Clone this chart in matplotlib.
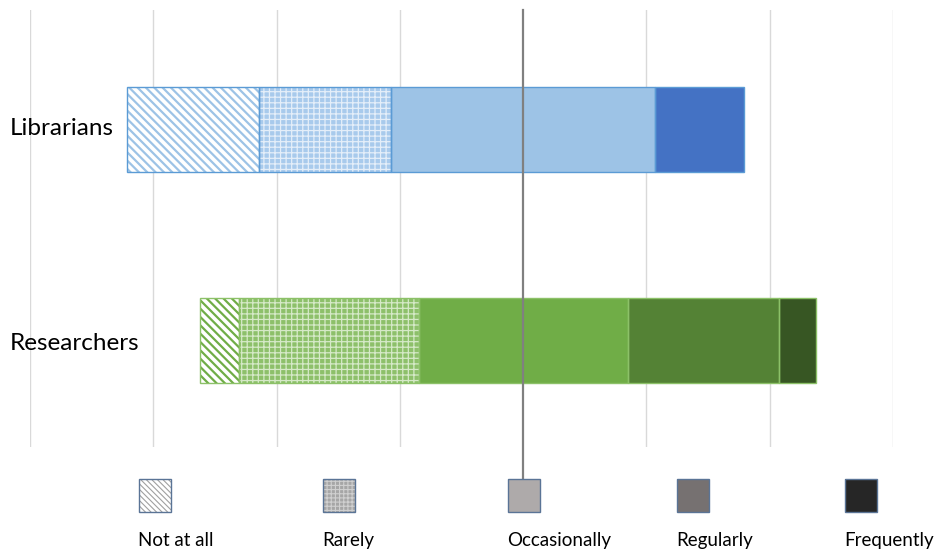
import matplotlib
matplotlib.use("Agg")
import matplotlib.pyplot as plt
from matplotlib.patches import Rectangle
import numpy as np

groups = ["Librarians", "Researchers"]
levels = ["Not at all", "Rarely", "Occasionally", "Regularly", "Frequently"]
librarians = [21.4, 21.4, 42.9, 14.3, 0.0]
researchers = [6.3, 29.2, 33.9, 24.5, 6.0]
x_ticks = [-80, -60, -40, -20, 0, 20, 40, 60]

plt.rcParams['font.family'] = ['Lato', 'DejaVu Sans']

W, H = 935, 549
fig = plt.figure(figsize=(W / 100, H / 100), dpi=100)
ax = fig.add_axes([30 / W, (H - 447) / H, (893 - 30) / W, (447 - 10) / H])

styles = {
    "Librarians": dict(
        fills=["white", "#a8caec", "#9dc3e6", "#4472c4", "#2f5597"],
        hatchcol=["#9dc3e6", "#e4eef9", None, None, None],
        hatches=["\\\\\\\\", "+++", None, None, None],
        hlw=[1.6, 0.9, 0, 0, 0],
        edge="#5b9bd5"),
    "Researchers": dict(
        fills=["white", "#8dc06a", "#70ad47", "#548235", "#375623"],
        hatchcol=["#70ad47", "#d5e9c7", None, None, None],
        hatches=["\\\\\\\\", "+++", None, None, None],
        hlw=[1.6, 0.9, 0, 0, 0],
        edge="#8cc168"),
}

data = {"Librarians": librarians, "Researchers": researchers}
bar_h = 0.4
for i, g in enumerate(groups):
    vals = data[g]
    st = styles[g]
    left = -(vals[0] + vals[1] + vals[2] / 2)
    for j, v in enumerate(vals):
        if v <= 0:
            continue
        if st["hatches"][j]:
            plt.rcParams['hatch.linewidth'] = st["hlw"][j]
            ax.barh(i, v, left=left, height=bar_h, color=st["fills"][j],
                    edgecolor=st["hatchcol"][j], hatch=st["hatches"][j],
                    linewidth=0, zorder=2)
        else:
            ax.barh(i, v, left=left, height=bar_h, color=st["fills"][j],
                    linewidth=0, zorder=2)
        ax.barh(i, v, left=left, height=bar_h, fill=False,
                edgecolor=st["edge"], linewidth=1.0, zorder=3)
        left += v

ax.set_xlim(-80, 60)
ax.set_ylim(1.505, -0.566)
for x in x_ticks:
    if x != 0:
        ax.axvline(x, color="#d9d9d9", linewidth=1.0, zorder=0)
ax.axvline(0, ymin=-0.087, ymax=1.0, color="#808080", linewidth=1.6,
           clip_on=False, zorder=4)
for s in ax.spines.values():
    s.set_visible(False)
ax.set_xticks([])
ax.set_yticks([])

# Overlay for labels and legend (pixel coordinates)
leg = fig.add_axes([0, 0, 1, 1], zorder=5)
leg.set_xlim(0, W)
leg.set_ylim(H, 0)
leg.axis("off")
leg.patch.set_alpha(0)

label_baselines = [135, 350]
for g, yb in zip(groups, label_baselines):
    leg.text(10, yb, g, ha="left", va="baseline", fontsize=17.5, color="black")

leg_fill = ["white", "#a6a6a6", "#aeaaaa", "#767171", "#262626"]
leg_hatch = ["\\\\\\\\\\\\", "++++", None, None, None]
leg_hcol = ["#a0a0a0", "#d0d0d0", None, None, None]
leg_x = [139, 323, 508, 677, 845]
plt.rcParams['hatch.linewidth'] = 0.8
for k, name in enumerate(levels):
    if leg_hatch[k]:
        leg.add_patch(Rectangle((leg_x[k], 479), 32, 33, facecolor=leg_fill[k],
                                edgecolor=leg_hcol[k], hatch=leg_hatch[k], linewidth=0))
    else:
        leg.add_patch(Rectangle((leg_x[k], 479), 32, 33, facecolor=leg_fill[k],
                                linewidth=0))
    leg.add_patch(Rectangle((leg_x[k], 479), 32, 33, fill=False,
                            edgecolor="#5a7496", linewidth=1.0))
    leg.text(leg_x[k] - 1, 546, name, ha="left", va="baseline", fontsize=13.5,
             color="black")

fig.savefig("out.png", dpi=100, facecolor="white")
